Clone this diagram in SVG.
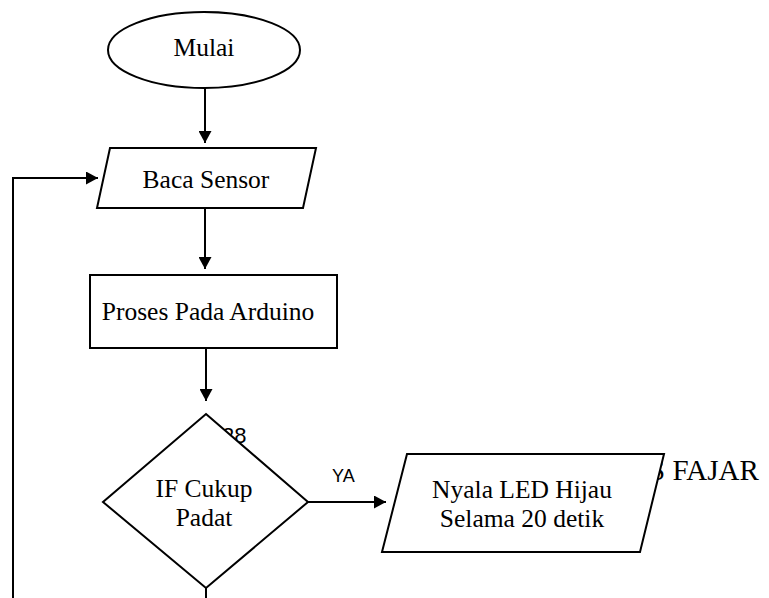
<svg xmlns="http://www.w3.org/2000/svg" width="769" height="598" viewBox="0 0 769 598">
<defs>
<marker id="arr" markerWidth="13" markerHeight="13" refX="12" refY="6.5" orient="auto" markerUnits="userSpaceOnUse">
<path d="M0,0 L12,6.5 L0,13 Z" fill="#000"/>
</marker>
<style>
.s{fill:#fff;stroke:#000;stroke-width:2}
.t{font-family:"Liberation Serif","Times New Roman",serif;font-size:25.5px;fill:#000;text-anchor:middle}
.c{fill:none;stroke:#000;stroke-width:2}
</style>
</defs>
<rect width="769" height="598" fill="#fff"/>
<text x="222" y="443" font-family="Liberation Sans, Arial, sans-serif" font-size="22">28</text>
<text x="649" y="480" font-family="Liberation Serif, Times New Roman, serif" font-size="29">S FAJAR</text>
<g id="connectors">
<line class="c" x1="205" y1="88" x2="205" y2="143" marker-end="url(#arr)"/>
<line class="c" x1="205" y1="208" x2="205" y2="269" marker-end="url(#arr)"/>
<line class="c" x1="206" y1="348" x2="206" y2="401" marker-end="url(#arr)"/>
<line class="c" x1="308" y1="502" x2="386" y2="502" marker-end="url(#arr)"/>
<polyline class="c" points="13,598 13,178 98,178" marker-end="url(#arr)"/>
<line class="c" x1="206" y1="588" x2="206" y2="598"/>
<text x="332" y="482" font-family="Liberation Sans, Arial, sans-serif" font-size="18">YA</text>
</g>
<g id="mulai">
<ellipse class="s" cx="204" cy="50" rx="96" ry="38"/>
<text class="t" x="204" y="56">Mulai</text>
</g>
<g id="baca">
<polygon class="s" points="110,148 316,148 303,208 97,208"/>
<text class="t" x="206" y="188">Baca Sensor</text>
</g>
<g id="proses">
<rect class="s" x="90" y="275" width="247" height="73"/>
<text class="t" x="208" y="320">Proses Pada Arduino</text>
</g>
<g id="if">
<polygon class="s" points="206,414 308,502 206,588 103,502"/>
<text class="t" x="204" y="497">IF Cukup</text>
<text class="t" x="204" y="526">Padat</text>
</g>
<g id="nyala">
<polygon class="s" points="407,454 664,454 640,552 382,552"/>
<text class="t" x="522" y="498">Nyala LED Hijau</text>
<text class="t" x="522" y="527">Selama 20 detik</text>
</g>
</svg>
